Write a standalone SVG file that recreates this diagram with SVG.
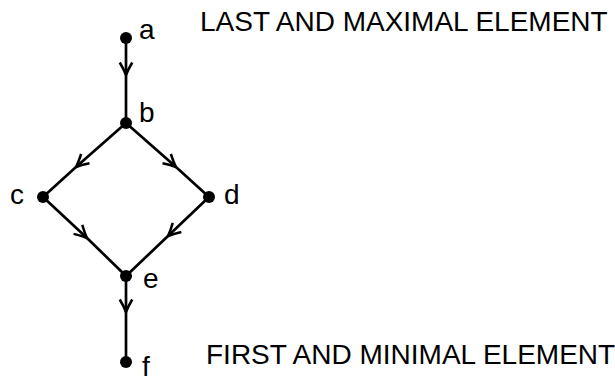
<svg xmlns="http://www.w3.org/2000/svg" width="615" height="381" viewBox="0 0 615 381">
<style>
.e{fill:none;stroke:#000;stroke-width:2.7;marker-mid:url(#ar)}
.n{fill:#000}
text{font-family:"Liberation Sans",Arial,sans-serif;font-size:28px;fill:#000}
</style>
<defs>
<marker id="ar" markerUnits="userSpaceOnUse" markerWidth="20" markerHeight="20" viewBox="-12 -8 14 16" refX="0" refY="0" orient="auto">
<path d="M-10,-5 Q-4,-1.5 0,0 Q-4,1.5 -10,5" fill="none" stroke="#000" stroke-width="2"/>
</marker>
</defs>
<rect width="615" height="381" fill="#fff"/>
<g id="edges">
<path class="e" d="M126,38 L126,75 L126,123"/>
<path class="e" d="M126,123 L76,167 L43,197"/>
<path class="e" d="M126,123 L176,167 L209,197"/>
<path class="e" d="M43,197 L87,238 L126,276"/>
<path class="e" d="M209,197 L168,236 L126,276"/>
<path class="e" d="M126,276 L126,312 L126,362"/>
</g>
<g id="a"><circle class="n" cx="126" cy="38" r="6"/><text x="139" y="39">a</text></g>
<g id="b"><circle class="n" cx="126" cy="123" r="6"/><text x="139" y="122">b</text></g>
<g id="c"><circle class="n" cx="43" cy="197" r="6"/><text x="10" y="204">c</text></g>
<g id="d"><circle class="n" cx="209" cy="197" r="6"/><text x="224" y="204">d</text></g>
<g id="e"><circle class="n" cx="126" cy="276" r="6"/><text x="143" y="288">e</text></g>
<g id="f"><circle class="n" cx="126" cy="362" r="6"/><text x="142" y="376">f</text></g>
<text x="200" y="31">LAST AND MAXIMAL ELEMENT</text>
<text x="206" y="364">FIRST AND MINIMAL ELEMENT</text>
</svg>
